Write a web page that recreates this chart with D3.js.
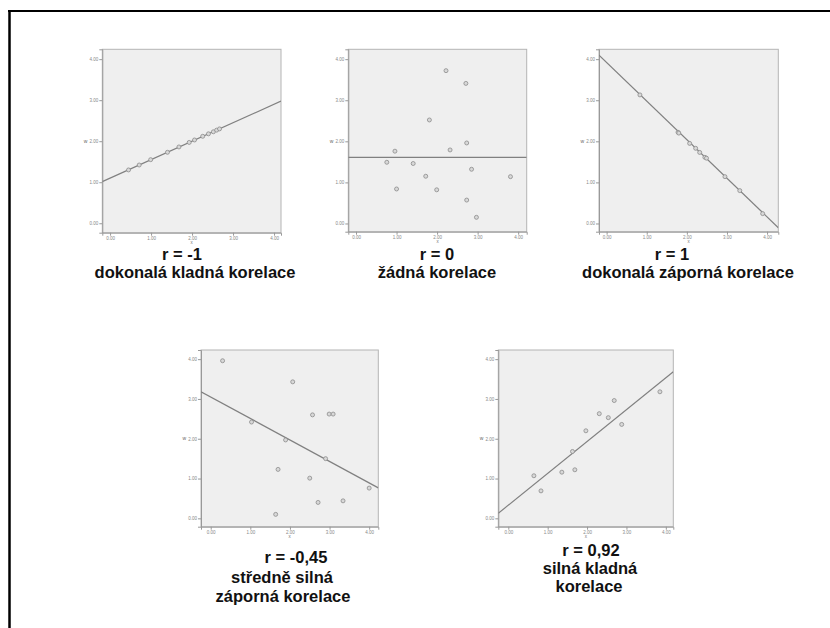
<!DOCTYPE html>
<html>
<head>
<meta charset="utf-8">
<script src="https://cdn.jsdelivr.net/npm/d3@7/dist/d3.min.js"></script>
<style>
  html, body { margin: 0; padding: 0; background: #fff; }
  svg { display: block; }
  .lbl { font-family: "Liberation Sans", Arial, sans-serif; font-weight: bold; fill: #111; }
  .tick text { font-family: "Liberation Sans", Arial, sans-serif; }
</style>
</head>
<body>
<svg id="chart" width="830" height="628"></svg>
<script>
// Tick labels shared by all scatterplots
const tickValues = [0, 1, 2, 3, 4];
const tickLabels = ["0.00", "1.00", "2.00", "3.00", "4.00"];

// Panel 1: r = -1
const p1x = [0.45, 0.71, 0.99, 1.40, 1.68, 1.93, 2.06, 2.26, 2.40, 2.52, 2.60, 2.67];
const p1y = [1.30, 1.42, 1.55, 1.73, 1.86, 1.97, 2.03, 2.12, 2.18, 2.23, 2.27, 2.30];
// Panel 2: r = 0
const p2x = [2.22, 2.71, 1.81, 2.73, 0.96, 2.32, 0.76, 1.41, 2.85, 1.72, 3.81, 1.00, 1.99, 2.73, 2.97];
const p2y = [3.72, 3.41, 2.52, 1.96, 1.76, 1.79, 1.49, 1.46, 1.32, 1.15, 1.14, 0.84, 0.82, 0.57, 0.15];
// Panel 3: r = 1
const p3x = [0.83, 1.78, 1.80, 2.07, 2.22, 2.32, 2.45, 2.49, 2.95, 3.32, 3.89];
const p3y = [3.13, 2.22, 2.20, 1.95, 1.83, 1.73, 1.61, 1.59, 1.14, 0.80, 0.24];
// Panel 4: r = -0,45
const p4x = [0.30, 2.07, 2.57, 2.99, 3.09, 1.03, 1.89, 2.90, 1.70, 2.50, 4.00, 2.71, 3.34, 1.64];
const p4y = [3.96, 3.43, 2.60, 2.62, 2.62, 2.42, 1.97, 1.50, 1.23, 1.01, 0.76, 0.40, 0.44, 0.10];
// Panel 5: r = 0,92
const p5x = [3.85, 2.69, 2.31, 2.54, 2.88, 1.97, 1.63, 0.65, 1.36, 1.69, 0.83];
const p5y = [3.18, 2.96, 2.63, 2.53, 2.36, 2.20, 1.68, 1.07, 1.16, 1.22, 0.69];

// Fit lines: [intercept, slope]
const fitIntercepts = [1.10, 1.607, 3.92, 3.05, 0.33];
const fitSlopes = [0.45, 0, -0.94, -0.54, 0.80];

// Caption lines under each plot
const captions = [
  ["r = -1", "dokonalá kladná korelace"],
  ["r = 0", "žádná korelace"],
  ["r = 1", "dokonalá záporná korelace"],
  ["r = -0,45", "středně silná", "záporná korelace"],
  ["r = 0,92", "silná kladná", "korelace"]
];

const pointsX = [p1x, p2x, p3x, p4x, p5x];
const pointsY = [p1y, p2y, p3y, p4y, p5y];

// Plot frames and the data ranges they show
const layout = [
  { box: [102.3, 49.3, 281, 232.7], xd: [-0.19, 4.17], yd: [-0.23, 4.24], cap: [[182, 259], [195, 278]] },
  { box: [348.3, 49.3, 526.7, 231.7], xd: [-0.19, 4.21], yd: [-0.20, 4.24], cap: [[437, 259], [437, 278]] },
  { box: [599, 49.3, 778.3, 231.7], xd: [-0.19, 4.28], yd: [-0.20, 4.24], cap: [[672, 259], [688, 278]] },
  { box: [201, 350, 378.3, 526.7], xd: [-0.245, 4.23], yd: [-0.21, 4.23], cap: [[296, 563], [282, 583], [283, 602]] },
  { box: [498.3, 350, 673.3, 526.7], xd: [-0.254, 4.19], yd: [-0.21, 4.23], cap: [[591, 556], [590, 574], [589, 592]] }
];

const svg = d3.select("#chart");

// Outer frame: left and top edges
svg.append("line").attr("x1", 9.5).attr("x2", 9.5).attr("y1", 10).attr("y2", 628)
  .attr("stroke", "#000").attr("stroke-width", 2.5);
svg.append("line").attr("x1", 8).attr("x2", 830).attr("y1", 11).attr("y2", 11)
  .attr("stroke", "#000").attr("stroke-width", 2);

layout.forEach((L, i) => {
  const [x0, y0, x1, y1] = L.box;
  const x = d3.scaleLinear().domain(L.xd).range([x0, x1]);
  const y = d3.scaleLinear().domain(L.yd).range([y1, y0]);
  const g = svg.append("g");

  g.append("rect").attr("x", x0).attr("y", y0).attr("width", x1 - x0).attr("height", y1 - y0)
    .attr("fill", "#efefef").attr("stroke", "#b4b4b4").attr("stroke-width", 1);

  const fmt = d => tickLabels[tickValues.indexOf(d)];
  const xa = g.append("g").attr("transform", `translate(0,${y1})`)
    .call(d3.axisBottom(x).tickValues(tickValues).tickFormat(fmt).tickSize(3).tickPadding(1));
  const ya = g.append("g").attr("transform", `translate(${x0},0)`)
    .call(d3.axisLeft(y).tickValues(tickValues).tickFormat(fmt).tickSize(3).tickPadding(1));
  [xa, ya].forEach(a => {
    a.select(".domain").attr("stroke", "#999");
    a.selectAll(".tick line").attr("stroke", "#999");
    a.selectAll(".tick text").attr("font-size", 4.5).attr("fill", "#888");
  });

  // axis titles
  g.append("text").attr("x", (x0 + x1) / 2).attr("y", y1 + 11).attr("text-anchor", "middle")
    .attr("font-size", 4.5).attr("fill", "#777").attr("font-family", "Liberation Sans, Arial").text("x");
  g.append("text").attr("x", x0 - 15).attr("y", y(2) + 1.5).attr("text-anchor", "end")
    .attr("font-size", 5).attr("fill", "#666").attr("font-family", "Liberation Sans, Arial").text("w");

  // fit line clipped to the frame
  const clipId = "clip" + i;
  g.append("clipPath").attr("id", clipId).append("rect")
    .attr("x", x0).attr("y", y0).attr("width", x1 - x0).attr("height", y1 - y0);
  const a = fitIntercepts[i], b = fitSlopes[i];
  g.append("line").attr("clip-path", `url(#${clipId})`)
    .attr("x1", x(L.xd[0])).attr("y1", y(a + b * L.xd[0]))
    .attr("x2", x(L.xd[1])).attr("y2", y(a + b * L.xd[1]))
    .attr("stroke", "#808080").attr("stroke-width", 1.2);

  // points
  g.selectAll("circle.pt").data(pointsX[i].map((v, k) => [v, pointsY[i][k]])).join("circle")
    .attr("class", "pt").attr("cx", d => x(d[0])).attr("cy", d => y(d[1])).attr("r", 2)
    .attr("fill", "#d8d8d8").attr("stroke", "#8c8c8c").attr("stroke-width", 0.8);

  // captions
  captions[i].forEach((t, k) => {
    svg.append("text").attr("class", "lbl").attr("x", L.cap[k][0]).attr("y", L.cap[k][1] + (k === 0 && i < 3 ? 1 : 0))
      .attr("text-anchor", "middle").attr("font-size", 16.5).text(t);
  });
});
</script>
</body>
</html>
